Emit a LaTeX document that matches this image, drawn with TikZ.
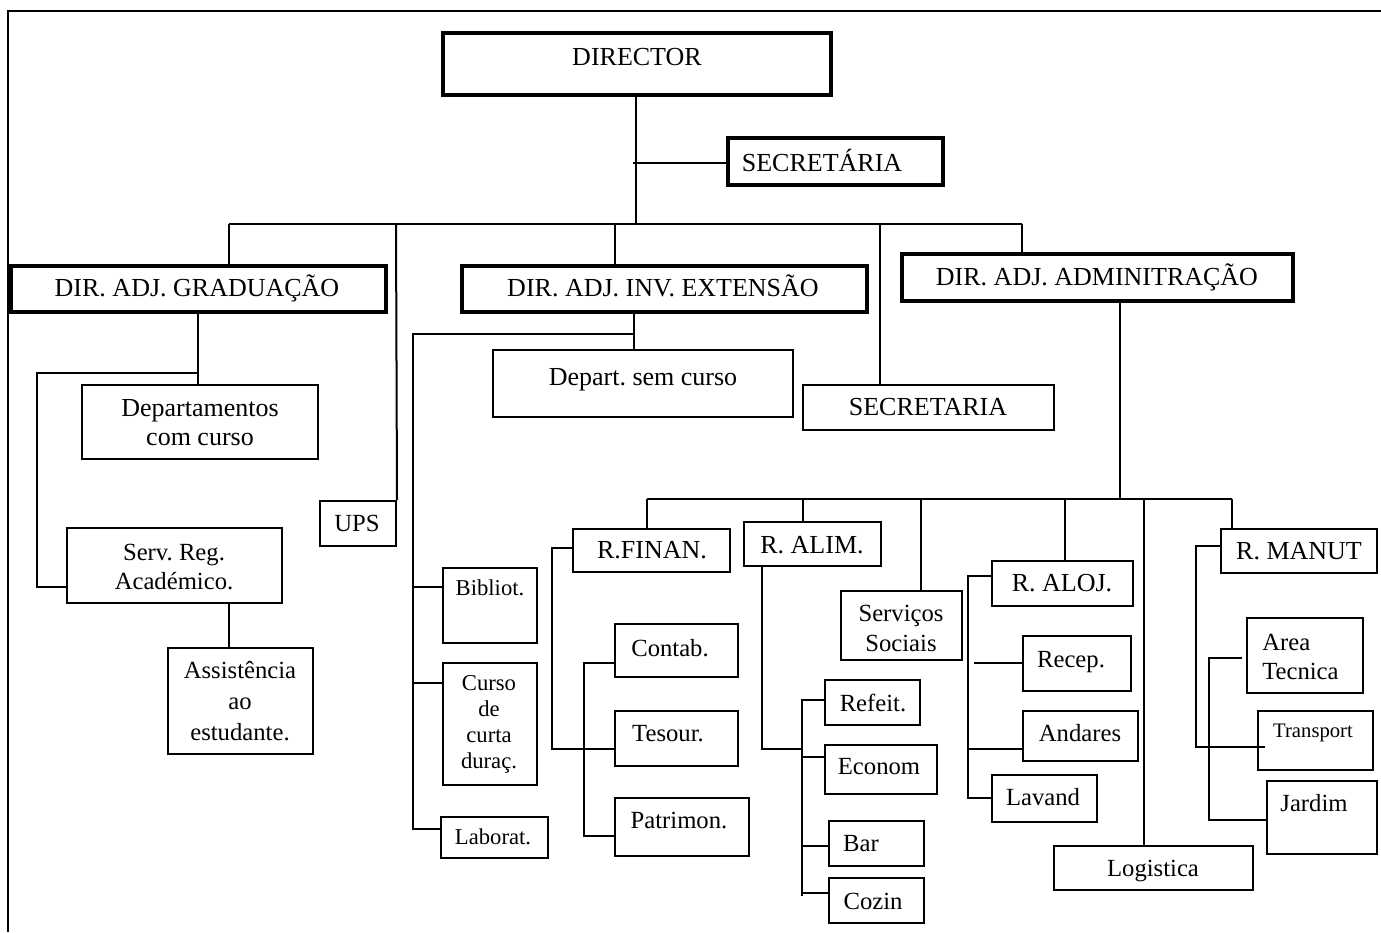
\documentclass[tikz,border=0pt]{standalone}
\usepackage{fontspec}
\setmainfont{Liberation Serif}
\usetikzlibrary{fit}
\frenchspacing
\begin{document}
\begin{tikzpicture}[x=0.75pt,y=-0.75pt,
  bx/.style={draw, line width=1.5pt, inner sep=0pt},
  bxa/.style={draw, line width=3.2pt, inner sep=0pt},
  bxb/.style={draw, line width=2.3pt, inner sep=0pt},
  ln/.style={line width=1.5pt},
  ta/.style={inner sep=0pt, font=\fontsize{19.5}{22}\selectfont, text height=12.9pt, text depth=0pt},
  tb/.style={inner sep=0pt, font=\fontsize{18.5}{22}\selectfont, text height=12.2pt, text depth=0pt},
  tc/.style={inner sep=0pt, font=\fontsize{17}{19.5}\selectfont, text height=11.2pt, text depth=0pt},
  td/.style={inner sep=0pt, font=\fontsize{15.5}{18}\selectfont, text height=10.2pt, text depth=0pt},
  ml/.style={inner sep=0pt, align=center},
]
\useasboundingbox (0,0) rectangle (1381,932);
% frame
\coordinate (fr1) at (1381,11);
\coordinate (fr2) at (8,11);
\coordinate (fr3) at (8,932);
\draw[ln] (fr1) -- (fr2) -- (fr3);

% boxes
\node[bxa, fit={(443,33) (831,95)}] (dir) {};
\node[bxb, fit={(728,138) (943,185)}] (sec1) {};
\node[bxa, fit={(11,266) (386,312)}] (grad) {};
\node[bxa, fit={(462,266) (867,312)}] (inv) {};
\node[bxa, fit={(902,254) (1293,301)}] (adm) {};
\node[bx, fit={(803,385) (1054,430)}] (sec2) {};
\node[bx, fit={(82,385) (318,459)}] (dep) {};
\node[bx, fit={(67,528) (282,603)}] (srv) {};
\node[bx, fit={(168,648) (313,754)}] (ass) {};
\node[bx, fit={(320,501) (396,546)}] (ups) {};
\node[bx, fit={(493,350) (793,417)}] (dsc) {};
\node[bx, fit={(443,568) (537,643)}] (bib) {};
\node[bx, fit={(443,663) (537,785)}] (cur) {};
\node[bx, fit={(441,817) (548,858)}] (lab) {};
\node[bx, fit={(573,529) (730,572)}] (fin) {};
\node[bx, fit={(615,624) (738,677)}] (con) {};
\node[bx, fit={(615,711) (738,766)}] (tes) {};
\node[bx, fit={(615,798) (749,856)}] (pat) {};
\node[bx, fit={(744,522) (881,566)}] (ali) {};
\node[bx, fit={(825,680) (920,725)}] (ref) {};
\node[bx, fit={(825,745) (937,794)}] (eco) {};
\node[bx, fit={(829,821) (924,866)}] (bar) {};
\node[bx, fit={(829,878) (924,923)}] (coz) {};
\node[bx, fit={(841,591) (962,660)}] (soc) {};
\node[bx, fit={(992,561) (1133,606)}] (alo) {};
\node[bx, fit={(1023,636) (1131,691)}] (rec) {};
\node[bx, fit={(1023,711) (1138,761)}] (anda) {};
\node[bx, fit={(992,775) (1097,822)}] (lav) {};
\node[bx, fit={(1054,846) (1253,890)}] (logi) {};
\node[bx, fit={(1221,529) (1377,573)}] (man) {};
\node[bx, fit={(1247,618) (1363,693)}] (are) {};
\node[bx, fit={(1258,711) (1373,770)}] (tra) {};
\node[bx, fit={(1267,781) (1377,854)}] (jar) {};

% texts
\node[ta] (t-dir) at (637,57) {DIRECTOR};
\node[ta] (t-sec1) at (822,163) {SECRETÁRIA};
\node[ta] (t-grad) at (197,288) {DIR. ADJ. GRADUAÇÃO};
\node[ta] (t-inv) at (663,288) {DIR. ADJ. INV. EXTENSÃO};
\node[ta] (t-adm) at (1097,277) {DIR. ADJ. ADMINITRAÇÃO};
\node[ta] (t-sec2) at (928,407) {SECRETARIA};
\node[ml, font=\fontsize{19.5}{21.75}\selectfont] (t-dep) at (200,423) {Departamentos\\com curso};
\node[ml, font=\fontsize{18.5}{21.75}\selectfont] (t-srv) at (174,567) {Serv. Reg.\\Académico.};
\node[ml, font=\fontsize{18.5}{23}\selectfont] (t-ass) at (240,701) {Assistência\\ao\\estudante.};
\node[tb] (t-ups) at (357,523) {UPS};
\node[ta] (t-dsc) at (643,377) {Depart. sem curso};
\node[tc] (t-bib) at (490,588) {Bibliot.};
\node[ml, font=\fontsize{17}{19.5}\selectfont] (t-cur) at (489,724) {Curso\\de\\curta\\duraç.};
\node[tc] (t-lab) at (493,837) {Laborat.};
\node[ta] (t-fin) at (652,550) {R.FINAN.};
\node[tb] (t-con) at (670,648) {Contab.};
\node[tb] (t-tes) at (668,733) {Tesour.};
\node[tb] (t-pat) at (679,820) {Patrimon.};
\node[ta] (t-ali) at (812,545) {R. ALIM.};
\node[tb] (t-ref) at (873,703) {Refeit.};
\node[tb] (t-eco) at (879,766) {Econom};
\node[tb] (t-bar) at (861,843) {Bar};
\node[tb] (t-coz) at (873,901) {Cozin};
\node[ml, font=\fontsize{18.5}{22.5}\selectfont] (t-soc) at (901,628) {Serviços\\Sociais};
\node[ta] (t-alo) at (1062,583) {R. ALOJ.};
\node[tb] (t-rec) at (1071,659) {Recep.};
\node[tb] (t-anda) at (1080,733) {Andares};
\node[tb] (t-lav) at (1043,797) {Lavand};
\node[tb] (t-logi) at (1153,868) {Logistica};
\node[ta] (t-man) at (1299,551) {R. MANUT};
\node[inner sep=0pt, align=left, font=\fontsize{18.5}{21.75}\selectfont, anchor=west] (t-are) at (1262,657) {Area\\Tecnica};
\node[td] (t-tra) at (1313,731) {Transport};
\node[tb] (t-jar) at (1314,803) {Jardim};

% top level connectors
\coordinate (bA) at (229,224);
\coordinate (bU) at (396,224);
\coordinate (bB) at (615,224);
\coordinate (bM) at (636,224);
\coordinate (bS) at (880,224);
\coordinate (bC) at (1022,224);
\coordinate (jS) at (633,163);
\draw[ln] (dir.south -| bM) -- (bM);
\draw[ln] (jS) -- (jS -| sec1.west);
\draw[ln] (bA) -- (bC);
\draw[ln] (bA) -- (bA |- grad.north);
\draw[ln] (bU) -- (ups.north east);
\draw[ln] (bB) -- (bB |- inv.north);
\draw[ln] (bS) -- (bS |- sec2.north);
\draw[ln] (bC) -- (bC |- adm.north);

% graduacao
\coordinate (g1) at (198,373);
\coordinate (g2) at (37,373);
\coordinate (g3) at (37,587);
\coordinate (s1) at (229,603);
\draw[ln] (grad.south -| g1) -- (g1 |- dep.north);
\draw[ln] (g1) -- (g2) -- (g3) -- (g3 -| srv.west);
\draw[ln] (srv.south -| s1) -- (s1 |- ass.north);

% inv extensao
\coordinate (i1) at (634,334);
\coordinate (i2) at (413,334);
\coordinate (i3) at (413,829);
\coordinate (i4) at (413,587);
\coordinate (i5) at (413,683);
\draw[ln] (inv.south -| i1) -- (i1 |- dsc.north);
\draw[ln] (i1) -- (i2) -- (i3) -- (i3 -| lab.west);
\draw[ln] (i4) -- (i4 -| bib.west);
\draw[ln] (i5) -- (i5 -| cur.west);

% administracao
\coordinate (a0) at (1120,499);
\coordinate (aF) at (647,499);
\coordinate (aA) at (803,499);
\coordinate (aS) at (921,499);
\coordinate (aL) at (1065,499);
\coordinate (aG) at (1144,499);
\coordinate (aM) at (1232,499);
\draw[ln] (adm.south -| a0) -- (a0);
\draw[ln] (aF) -- (aM);
\draw[ln] (aF) -- (aF |- fin.north);
\draw[ln] (aA) -- (aA |- ali.north);
\draw[ln] (aS) -- (aS |- soc.north);
\draw[ln] (aL) -- (aL |- alo.north);
\draw[ln] (aG) -- (aG |- logi.north);
\draw[ln] (aM) -- (aM |- man.north);

% financas
\coordinate (f1) at (552,548);
\coordinate (f2) at (552,749);
\coordinate (f3) at (584,663);
\coordinate (f4) at (584,836);
\draw[ln] (f1 -| fin.west) -- (f1) -- (f2) -- (f2 -| tes.west);
\draw[ln] (f3 -| con.west) -- (f3) -- (f4) -- (f4 -| pat.west);

% alimentacao
\coordinate (l1) at (762,749);
\coordinate (l2) at (802,749);
\coordinate (l3) at (802,699);
\coordinate (l4) at (802,896);
\coordinate (l5) at (802,700);
\coordinate (l6) at (802,757);
\coordinate (l7) at (802,846);
\coordinate (l8) at (802,893);
\draw[ln] (ali.south -| l1) -- (l1) -- (l2);
\draw[ln] (l3) -- (l4);
\draw[ln] (l5) -- (l5 -| ref.west);
\draw[ln] (l6) -- (l6 -| eco.west);
\draw[ln] (l7) -- (l7 -| bar.west);
\draw[ln] (l8) -- (l8 -| coz.west);

% alojamento
\coordinate (j1) at (968,576);
\coordinate (j2) at (968,798);
\coordinate (j3) at (974,663);
\coordinate (j4) at (968,749);
\draw[ln] (j1 -| alo.west) -- (j1) -- (j2) -- (j2 -| lav.west);
\draw[ln] (j3) -- (j3 -| rec.west);
\draw[ln] (j4) -- (j4 -| anda.west);

% manutencao
\coordinate (m1) at (1196,546);
\coordinate (m2) at (1196,747);
\coordinate (m3) at (1265,747);
\coordinate (m4) at (1242,658);
\coordinate (m5) at (1209,658);
\coordinate (m6) at (1209,820);
\draw[ln] (m1 -| man.west) -- (m1) -- (m2) -- (m3);
\draw[ln] (m4) -- (m5) -- (m6) -- (m6 -| jar.west);
\end{tikzpicture}
\end{document}
